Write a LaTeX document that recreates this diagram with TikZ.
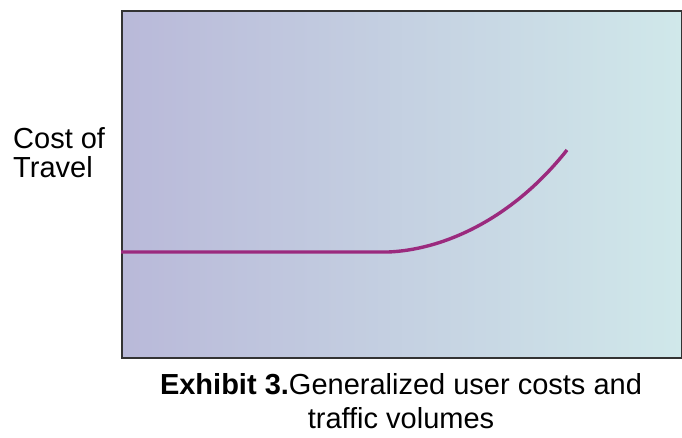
\documentclass[tikz,border=0pt]{standalone}
\usepackage{fontspec}
\setmainfont{Liberation Sans}
\definecolor{leftc}{HTML}{B9B9D9}
\definecolor{rightc}{HTML}{D0E8EA}
\definecolor{curvec}{HTML}{9B2A7E}
\definecolor{framec}{HTML}{333333}
\begin{document}
\begin{tikzpicture}[x=1pt,y=-1pt,
  lbl/.style={font=\fontsize{29}{29}\selectfont, text=black, inner sep=0pt, align=center},
  captext/.style={font=\fontsize{29}{34}\selectfont, text=black, inner sep=0pt, align=center},
  curve/.style={draw=curvec, line width=3.4pt, line join=round}]
\useasboundingbox (0,0) rectangle (682,437);
\node[draw=framec, line width=1.5pt, left color=leftc, right color=rightc, minimum width=560pt, minimum height=347pt, inner sep=0pt, anchor=north west] (plot) at (121,10) {};
\coordinate (c0) at (121,252);
\coordinate (c1) at (388,252);
\coordinate (c2) at (567,150);
\draw[curve] (c0) -- (c1) .. controls (440,250) and (510,222) .. (c2);
\node[lbl, align=left, anchor=west] (ylab) at (13,153) {Cost of\\Travel};
\node[captext] (caption) at (401,401) {\textbf{Exhibit 3.}Generalized user costs and\\traffic volumes};
\end{tikzpicture}
\end{document}
